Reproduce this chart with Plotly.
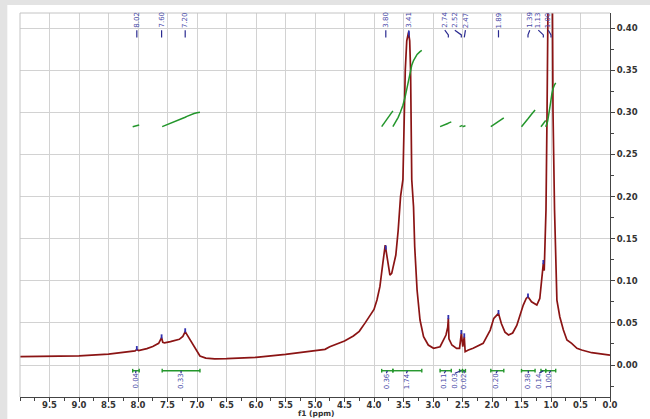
import numpy as np
import plotly.graph_objects as go

# ---- spectrum ----
ppm = [10.00, 9.50, 9.00, 8.50, 8.20, 8.05, 8.02, 7.99, 7.85, 7.75, 7.65, 7.61, 7.60, 7.58,
       7.55, 7.45, 7.30, 7.24, 7.20, 7.17, 7.10, 7.05, 7.00, 6.95, 6.85, 6.70, 6.50, 6.00,
       5.50, 5.00, 4.83, 4.75, 4.50, 4.35, 4.25, 4.15, 4.07, 4.00, 3.95, 3.90, 3.85, 3.81, 3.77,
       3.73, 3.70, 3.66, 3.63, 3.59, 3.55, 3.51, 3.47, 3.445, 3.415, 3.395, 3.38, 3.36, 3.33,
       3.31, 3.27, 3.22, 3.16, 3.08, 2.99, 2.88, 2.83, 2.78, 2.75, 2.74, 2.73, 2.68, 2.60,
       2.55, 2.52, 2.495, 2.47, 2.455, 2.40, 2.32, 2.15, 2.03, 1.97, 1.89, 1.84, 1.78, 1.72,
       1.65, 1.58, 1.52, 1.47, 1.42, 1.39, 1.33, 1.24, 1.19, 1.15, 1.13, 1.115, 1.10, 1.085,
       1.067, 1.056, 1.04, 1.01, 0.985, 0.978, 0.966, 0.94, 0.92, 0.90, 0.85, 0.79, 0.73,
       0.65, 0.56, 0.48, 0.31, 0.03, 0.00]
intensity = [0.0099, 0.0103, 0.0108, 0.0130, 0.0150, 0.0168, 0.0185, 0.0172, 0.0195, 0.0220,
             0.0257, 0.0300, 0.0324, 0.0270, 0.0262, 0.0277, 0.0305, 0.0340, 0.0396, 0.0360,
             0.0280, 0.0217, 0.0150, 0.0107, 0.0082, 0.0072, 0.0075, 0.0091, 0.0127, 0.0170,
             0.0186, 0.0217, 0.0285, 0.0345, 0.0400, 0.0500, 0.0580, 0.0660, 0.0772, 0.0930, 0.1210,
             0.1424, 0.1246, 0.1068, 0.1088, 0.1226, 0.1306, 0.1600, 0.2000, 0.2200, 0.3500,
             0.3850, 0.3950, 0.3850, 0.3500, 0.2200, 0.1880, 0.1404, 0.0890, 0.0534, 0.0336,
             0.0237, 0.0198, 0.0217, 0.0297, 0.0356, 0.0450, 0.0554, 0.0310, 0.0237, 0.0198,
             0.0198, 0.0376, 0.0217, 0.0336, 0.0158, 0.0178, 0.0198, 0.0257, 0.0415, 0.0554,
             0.0613, 0.0490, 0.0390, 0.0356, 0.0380, 0.0470, 0.0600, 0.0712, 0.0790, 0.0810,
             0.0751, 0.0712, 0.0790, 0.1090, 0.1207, 0.1120, 0.1500, 0.1840, 0.3000, 0.4200,
             0.5500, 0.7500, 0.5500, 0.4200, 0.3000, 0.1840, 0.1200, 0.0770, 0.0570, 0.0415,
             0.0297, 0.0257, 0.0198, 0.0178, 0.0146, 0.0119, 0.0118]

# ---- peak picking ----
peak_ppm = [8.02, 7.60, 7.20, 3.80, 3.41, 2.74, 2.52, 2.47, 1.89, 1.39, 1.13, 1.00]
peak_label_pos = [8.02, 7.60, 7.20, 3.80, 3.41, 2.80, 2.63, 2.45, 1.89, 1.36, 1.215, 1.045]
peak_text = ["8.02", "7.60", "7.20", "3.80", "3.41", "2.74", "2.52", "2.47", "1.89", "1.39", "1.13", "1.00"]

# ---- integrals ----
int_start = [8.09, 7.59, 3.87, 3.68, 2.88, 2.55, 2.50, 2.02, 1.50, 1.17, 1.09]
int_end = [7.98, 6.95, 3.68, 3.19, 2.69, 2.50, 2.45, 1.80, 1.27, 1.09, 0.92]
int_value = [0.04, 0.33, 0.36, 1.74, 0.11, 0.03, 0.02, 0.20, 0.38, 0.14, 1.00]
int_label_pos = [8.04, 7.27, 3.79, 3.45, 2.81, 2.63, 2.47, 1.93, 1.385, 1.20, 1.03]

x_ticks = [9.5, 9.0, 8.5, 8.0, 7.5, 7.0, 6.5, 6.0, 5.5, 5.0, 4.5, 4.0, 3.5, 3.0, 2.5, 2.0, 1.5, 1.0, 0.5, 0.0]

RED = "#8b1414"
GREEN = "#23962b"
BLUE_T = "#4a4aa8"
BLUE_L = "#2a2a90"
AX = "#444444"
GRID = "#d2d2d2"

P = np.array(ppm)
I = np.array(intensity)
order = np.argsort(P)

fig = go.Figure()

# spectrum
fig.add_trace(go.Scatter(x=ppm, y=intensity, mode="lines",
                         line=dict(color=RED, width=1.7), hoverinfo="skip"))

# integral curves (cumulative integral of the spectrum over each range)
INT_BASE = 0.283
INT_SCALE = 0.052
gx, gy = [], []
for s, e, v in zip(int_start, int_end, int_value):
    inside = [(p, q) for p, q in zip(ppm, intensity) if e < p < s]
    pts = [(s, float(np.interp(s, P[order], I[order])))] + inside + \
          [(e, float(np.interp(e, P[order], I[order])))]
    xs = np.array([p for p, _ in pts])
    ys = np.array([q for _, q in pts])
    cum = np.concatenate([[0], np.cumsum((ys[1:] + ys[:-1]) / 2 * (xs[:-1] - xs[1:]))])
    cum = cum / cum[-1]
    gx += list(xs) + [None]
    gy += list(INT_BASE + INT_SCALE * v * cum) + [None]
fig.add_trace(go.Scatter(x=gx, y=gy, mode="lines", line=dict(color=GREEN, width=1.5),
                         hoverinfo="skip"))

# integral bars below baseline
BAR_Y = -0.0068
bx, by = [], []
for s, e in zip(int_start, int_end):
    bx += [s, e, None, s, s, None, e, e, None]
    by += [BAR_Y, BAR_Y, None, BAR_Y - 0.0022, BAR_Y + 0.0022, None, BAR_Y - 0.0022, BAR_Y + 0.0022, None]
fig.add_trace(go.Scatter(x=bx, y=by, mode="lines", line=dict(color=GREEN, width=1.4),
                         hoverinfo="skip"))
cx, cy = [], []
for s, e, lp in zip(int_start, int_end, int_label_pos):
    c = (s + e) / 2
    cx += [c, lp, None]
    cy += [BAR_Y, -0.0098, None]
fig.add_trace(go.Scatter(x=cx, y=cy, mode="lines", line=dict(color=BLUE_L, width=1.2),
                         hoverinfo="skip"))

# peak connectors and peak markers
kx, ky = [], []
for pp, lp in zip(peak_ppm, peak_label_pos):
    kx += [lp, pp, pp, None]
    ky += [0.3976, 0.3920, 0.3890, None]
mx, my = [], []
for pp in peak_ppm:
    h = float(np.interp(pp, P[order], I[order]))
    mx += [pp, pp, None]
    my += [h - 0.001, h + 0.004, None]
fig.add_trace(go.Scatter(x=kx, y=ky, mode="lines", line=dict(color=BLUE_L, width=1.2),
                         hoverinfo="skip"))
fig.add_trace(go.Scatter(x=mx, y=my, mode="lines", line=dict(color="#3030b0", width=1.8),
                         hoverinfo="skip"))

annotations = []
for lp, t in zip(peak_label_pos, peak_text):
    annotations.append(dict(x=lp, y=0.982, xref="x", yref="paper", text=t, showarrow=False,
                            textangle=-90, font=dict(family="DejaVu Sans", size=7, color=BLUE_T),
                            xanchor="center", yanchor="middle"))
for lp, v in zip(int_label_pos, int_value):
    annotations.append(dict(x=lp, y=0.042, xref="x", yref="paper", text=f"{v:.2f}",
                            showarrow=False, textangle=-90,
                            font=dict(family="DejaVu Sans", size=7, color=BLUE_T),
                            xanchor="center", yanchor="middle"))
annotations.append(dict(x=0.503, y=-0.0573, xref="paper", yref="paper", text="f1 (ppm)",
                        showarrow=False, borderpad=0,
                        font=dict(family="DejaVu Sans", size=7.5, color="#333", weight="bold"),
                        xanchor="center", yanchor="bottom"))

shapes = [
    dict(type="rect", xref="paper", yref="paper", x0=-0.06, x1=1.12, y0=1.0208, y1=1.06,
         fillcolor="#e3e3e3", line=dict(width=0), layer="below"),
    dict(type="rect", xref="paper", yref="paper", x0=-0.06, x1=-0.0215, y0=-0.1, y1=1.06,
         fillcolor="#e3e3e3", line=dict(width=0), layer="below"),
    dict(type="line", xref="paper", yref="paper", x0=0, x1=1, y0=1, y1=1,
         line=dict(color="#c4c4c4", width=1)),
    dict(type="line", xref="paper", yref="paper", x0=0, x1=0, y0=0, y1=1,
         line=dict(color="#c4c4c4", width=1)),
]

tickfont = dict(family="DejaVu Sans", size=8.5, color="#333333", weight="bold")
fig.update_layout(width=650, height=419, margin=dict(l=20, r=40, t=13, b=22, autoexpand=False),
                  paper_bgcolor="white", plot_bgcolor="white", showlegend=False,
                  annotations=annotations, shapes=shapes, hovermode=False)
fig.update_xaxes(range=[10, 0], tickmode="array", tickvals=x_ticks, automargin=False,
                 ticktext=[f"{v:.1f}" for v in x_ticks], showgrid=True, gridcolor=GRID,
                 gridwidth=1, showline=True, linecolor=AX, linewidth=1, ticks="outside",
                 ticklen=4, tickcolor=AX, tickfont=tickfont, zeroline=False,
                 ticklabelstandoff=-4,
                 minor=dict(tickmode="linear", tick0=0, dtick=0.25, ticks="outside",
                            ticklen=3, tickcolor=AX, showgrid=False))
fig.update_yaxes(range=[-0.038, 0.418], side="right", tickmode="linear", tick0=0, dtick=0.05,
                 tickformat=".2f", showgrid=True, gridcolor=GRID, gridwidth=1, showline=True,
                 automargin=False,
                 linecolor=AX, linewidth=1, ticks="outside", ticklen=4, tickcolor=AX,
                 tickfont=tickfont, zeroline=False,
                 minor=dict(tickmode="linear", tick0=0, dtick=0.025, ticks="outside",
                            ticklen=3, tickcolor=AX, showgrid=False))

fig.write_html("out.html", config={"displayModeBar": False, "responsive": False},
               post_script="document.body.style.margin='0px';document.body.style.padding='0px';")
